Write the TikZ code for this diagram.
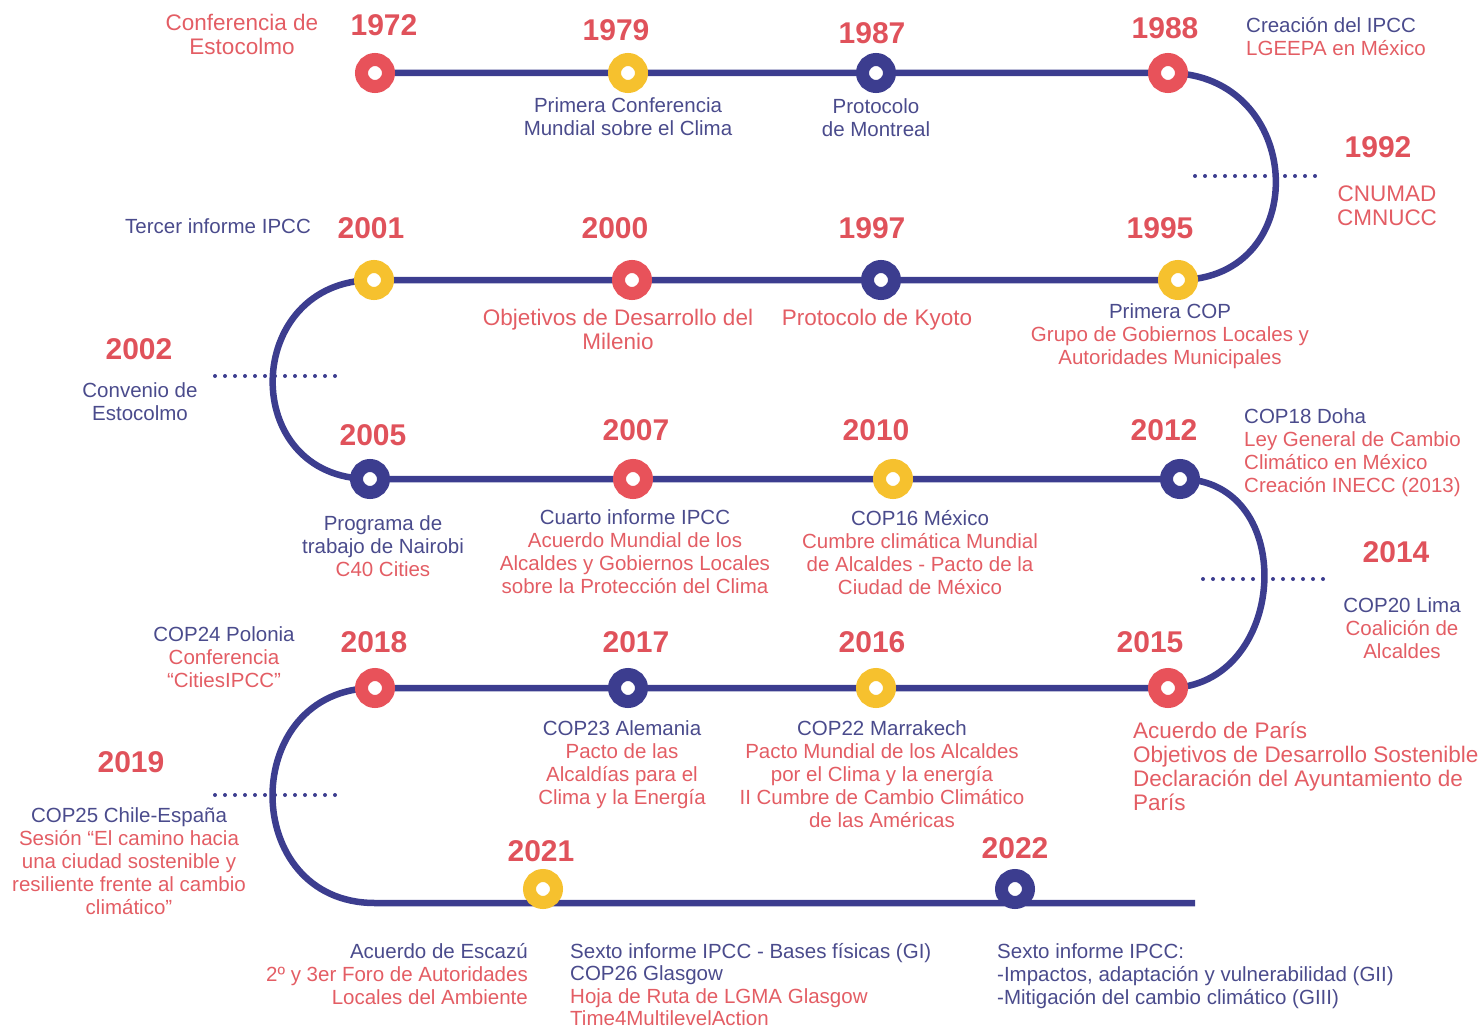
\documentclass[tikz,border=0pt]{standalone}
\usepackage{fontspec}
\setmainfont{Liberation Sans}
\usetikzlibrary{backgrounds}
\definecolor{navy}{HTML}{3C3D8F}
\definecolor{txtnavy}{HTML}{4A4B8C}
\definecolor{ringred}{HTML}{E8525A}
\definecolor{yearred}{HTML}{E0525B}
\definecolor{txtred}{HTML}{E35D64}
\definecolor{ringyellow}{HTML}{F6C12E}
\newcommand{\rd}[1]{\textcolor{txtred}{#1}}
\tikzset{
  ring/.style={circle, draw=#1, line width=13pt, fill=white, minimum size=27pt, inner sep=0pt},
  track/.style={draw=navy, line width=6.5pt, line join=round},
  ticks/.style={draw=navy, line width=4pt, line cap=round, dash pattern=on 0pt off 10pt},
  year/.style={font=\bfseries\fontsize{30}{30}\selectfont, text=yearred, inner sep=0pt},
  txt/.style={font=\fontsize{20.5}{23}\selectfont, text=txtnavy, align=center, inner sep=0pt, anchor=north},
  bigtxt/.style={txt, font=\fontsize{22.5}{24}\selectfont, text=txtred}
}
\begin{document}
\begin{tikzpicture}[x=1pt, y=-1pt]
  \useasboundingbox (0,0) rectangle (1482,1030);
  % rings
  \node[ring=ringred] (c1972) at (375,73) {};
  \node[ring=ringyellow] (c1979) at (628,73) {};
  \node[ring=navy] (c1987) at (876,73) {};
  \node[ring=ringred] (c1988) at (1168,73) {};
  \node[ring=ringyellow] (c2001) at (374,280) {};
  \node[ring=ringred] (c2000) at (632,280) {};
  \node[ring=navy] (c1997) at (881,280) {};
  \node[ring=ringyellow] (c1995) at (1178,280) {};
  \node[ring=navy] (c2005) at (370,479) {};
  \node[ring=ringred] (c2007) at (633,479) {};
  \node[ring=ringyellow] (c2010) at (893,479) {};
  \node[ring=navy] (c2012) at (1180,479) {};
  \node[ring=ringred] (c2018) at (375,688) {};
  \node[ring=navy] (c2017) at (628,688) {};
  \node[ring=ringyellow] (c2016) at (876,688) {};
  \node[ring=ringred] (c2015) at (1168,688) {};
  \node[ring=ringyellow] (c2021) at (543,889) {};
  \node[ring=navy] (c2022) at (1015,889) {};
  \coordinate (r5a) at (375,903);
  \coordinate (r5b) at (1195,903);
  % the track
  \begin{scope}[on background layer]
    \draw[track] (c1972.center) -- (c1979.center) -- (c1987.center) -- (c1988.center)
      to[out=0, in=0, looseness=1.69] (c1995.center) -- (c1997.center) -- (c2000.center) -- (c2001.center)
      to[out=180, in=180, looseness=1.7] (c2005.center) -- (c2007.center) -- (c2010.center) -- (c2012.center)
      to[out=0, in=0, looseness=1.47] (c2015.center) -- (c2016.center) -- (c2017.center) -- (c2018.center)
      to[out=180, in=180, looseness=1.63] (r5a) -- (r5b);
  \end{scope}
  % dotted marks
  \coordinate (d1992a) at (1195,176); \coordinate (d1992b) at (1325,176);
  \coordinate (d2002a) at (215,376); \coordinate (d2002b) at (345,376);
  \coordinate (d2014a) at (1203,579); \coordinate (d2014b) at (1333,579);
  \coordinate (d2019a) at (215,795); \coordinate (d2019b) at (345,795);
  \draw[ticks] (d1992a) -- (d1992b);
  \draw[ticks] (d2002a) -- (d2002b);
  \draw[ticks] (d2014a) -- (d2014b);
  \draw[ticks] (d2019a) -- (d2019b);
  % years
  \node[year] (y1972) at (384,25) {1972};
  \node[year] (y1979) at (616,30) {1979};
  \node[year] (y1987) at (872,33) {1987};
  \node[year] (y1988) at (1165,28) {1988};
  \node[year] (y1992) at (1378,147) {1992};
  \node[year] (y2001) at (371,228) {2001};
  \node[year] (y2000) at (615,228) {2000};
  \node[year] (y1997) at (872,228) {1997};
  \node[year] (y1995) at (1160,228) {1995};
  \node[year] (y2002) at (139,349) {2002};
  \node[year] (y2005) at (373,435) {2005};
  \node[year] (y2007) at (636,430) {2007};
  \node[year] (y2010) at (876,430) {2010};
  \node[year] (y2012) at (1164,430) {2012};
  \node[year] (y2014) at (1396,552) {2014};
  \node[year] (y2018) at (374,642) {2018};
  \node[year] (y2017) at (636,642) {2017};
  \node[year] (y2016) at (872,642) {2016};
  \node[year] (y2015) at (1150,642) {2015};
  \node[year] (y2019) at (131,762) {2019};
  \node[year] (y2021) at (541,851) {2021};
  \node[year] (y2022) at (1015,848) {2022};
  % events
  \node[bigtxt] (l1972) at (242,14) {Conferencia de\\Estocolmo};
  \node[txt] (l1979) at (628,97) {Primera Conferencia\\Mundial sobre el Clima};
  \node[txt] (l1987) at (876,98) {Protocolo\\de Montreal};
  \node[txt, align=left, anchor=north west] (l1988) at (1246,17) {Creación del IPCC\\\rd{LGEEPA en México}};
  \node[bigtxt] (l1992) at (1387,186) {CNUMAD\\CMNUCC};
  \node[txt] (l2001) at (218,218) {Tercer informe IPCC};
  \node[bigtxt] (l2000) at (618,309) {Objetivos de Desarrollo del\\Milenio};
  \node[bigtxt] (l1997) at (877,309) {Protocolo de Kyoto};
  \node[txt] (l1995) at (1170,303) {Primera COP\\\rd{Grupo de Gobiernos Locales y}\\\rd{Autoridades Municipales}};
  \node[txt] (l2002) at (140,382) {Convenio de\\Estocolmo};
  \node[txt] (l2005) at (383,515) {Programa de\\trabajo de Nairobi\\\rd{C40 Cities}};
  \node[txt] (l2007) at (635,509) {Cuarto informe IPCC\\\rd{Acuerdo Mundial de los}\\\rd{Alcaldes y Gobiernos Locales}\\\rd{sobre la Protección del Clima}};
  \node[txt] (l2010) at (920,510) {COP16 México\\\rd{Cumbre climática Mundial}\\\rd{de Alcaldes - Pacto de la}\\\rd{Ciudad de México}};
  \node[txt, align=left, anchor=north west] (l2012) at (1244,408) {COP18 Doha\\\rd{Ley General de Cambio}\\\rd{Climático en México}\\\rd{Creación INECC (2013)}};
  \node[txt] (l2014) at (1402,597) {COP20 Lima\\\rd{Coalición de}\\\rd{Alcaldes}};
  \node[txt] (l2018) at (224,626) {COP24 Polonia\\\rd{Conferencia}\\\rd{“CitiesIPCC”}};
  \node[txt] (l2017) at (622,720) {COP23 Alemania\\\rd{Pacto de las}\\\rd{Alcaldías para el}\\\rd{Clima y la Energía}};
  \node[txt] (l2016) at (882,720) {COP22 Marrakech\\\rd{Pacto Mundial de los Alcaldes}\\\rd{por el Clima y la energía}\\\rd{II Cumbre de Cambio Climático}\\\rd{de las Américas}};
  \node[bigtxt, align=left, anchor=north west] (l2015) at (1133,722) {Acuerdo de París\\Objetivos de Desarrollo Sostenible\\Declaración del Ayuntamiento de\\París};
  \node[txt] (l2019) at (129,807) {COP25 Chile-España\\\rd{Sesión “El camino hacia}\\\rd{una ciudad sostenible y}\\\rd{resiliente frente al cambio}\\\rd{climático”}};
  \node[txt, align=right, anchor=north east] (l2021a) at (528,943) {Acuerdo de Escazú\\\rd{2º y 3er Foro de Autoridades}\\\rd{Locales del Ambiente}};
  \node[txt, align=left, anchor=north west, font=\fontsize{20.5}{22.5}\selectfont] (l2021b) at (570,943) {Sexto informe IPCC - Bases físicas (GI)\\COP26 Glasgow\\\rd{Hoja de Ruta de LGMA Glasgow}\\\rd{Time4MultilevelAction}};
  \node[txt, align=left, anchor=north west] (l2022) at (997,943) {Sexto informe IPCC:\\-Impactos, adaptación y vulnerabilidad (GII)\\-Mitigación del cambio climático (GIII)};
\end{tikzpicture}
\end{document}
